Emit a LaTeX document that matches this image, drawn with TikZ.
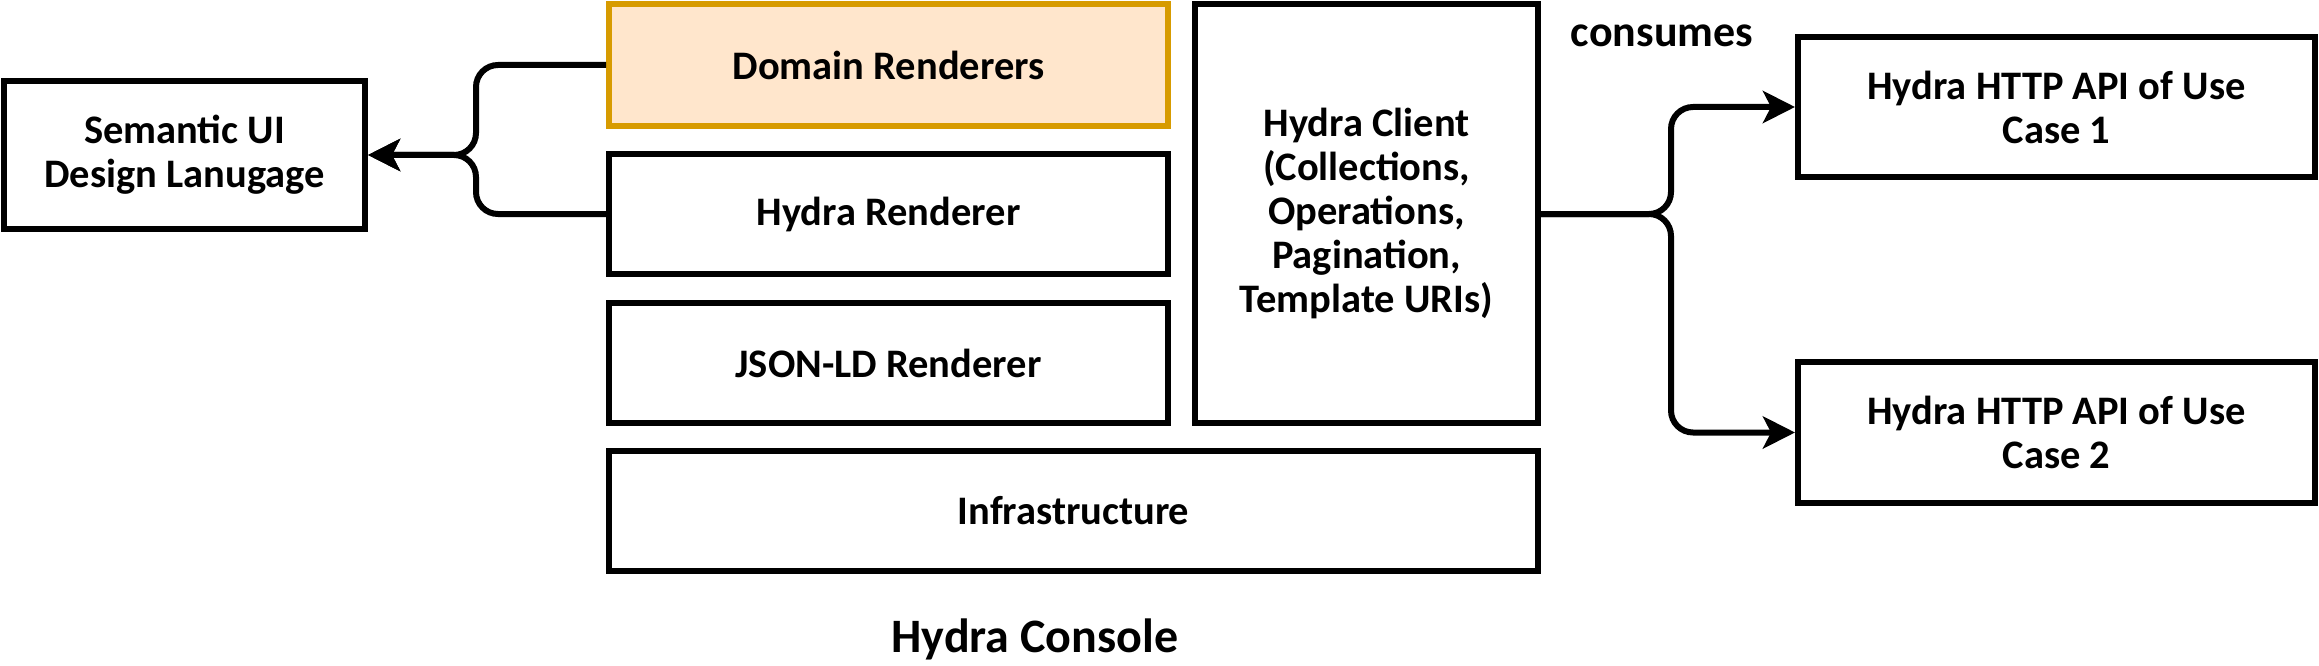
\documentclass[tikz,border=0pt]{standalone}
\usepackage{fontspec}
\setmainfont{Carlito}
\usetikzlibrary{arrows.meta}
\definecolor{domfill}{HTML}{FFE6CC}
\definecolor{domline}{HTML}{D79B00}
\begin{document}
\begin{tikzpicture}[x=1pt,y=-1pt,
  box/.style={draw=black, line width=6pt, fill=white, inner sep=0pt, align=center,
    font=\fontsize{40.5}{44}\selectfont\bfseries},
  conn/.style={draw=black, line width=6pt, rounded corners=22pt,
    -{Stealth[length=32pt,width=32pt,inset=8pt]}},
  lbl/.style={inner sep=0pt, font=\fontsize{44}{50}\selectfont\bfseries}]
\useasboundingbox (0,0) rectangle (2319,666);
% boxes
\node[box, minimum width=361pt, minimum height=148pt] (sem) at (184.5,155) {Semantic UI\\Design Lanugage};
\node[box, draw=domline, fill=domfill, minimum width=559pt, minimum height=122pt] (dom) at (888.5,65) {Domain Renderers};
\node[box, minimum width=559pt, minimum height=120pt] (hr) at (888.5,214) {Hydra Renderer};
\node[box, minimum width=559pt, minimum height=120pt] (jr) at (888.5,363) {JSON-LD Renderer};
\node[box, minimum width=343pt, minimum height=419pt] (hc) at (1366.5,213.5) {Hydra Client\\(Collections,\\Operations,\\Pagination,\\Template URIs)};
\node[box, minimum width=929pt, minimum height=120pt] (inf) at (1073.5,511) {Infrastructure};
\node[box, minimum width=517pt, minimum height=140pt] (api1) at (2056.5,107) {Hydra HTTP API of Use\\Case 1};
\node[box, minimum width=517pt, minimum height=141pt] (api2) at (2056.5,432.5) {Hydra HTTP API of Use\\Case 2};
% labels
\node[lbl] (cons) at (1662,36) {consumes};
\node[lbl, font=\fontsize{48}{54}\selectfont\bfseries] (console) at (1035,639) {Hydra Console};
% merge/split points
\coordinate (m1) at (476,152);
\coordinate (m2) at (1671,214);
% connectors
\draw[conn] (dom.west) -- (dom.west -| m1) |- (sem.east);
\draw[conn] (hr.west) -- (hr.west -| m1) |- (sem.east);
\draw[conn] (hc.east |- m2) -| (m2 |- api1.west) -- (api1.west);
\draw[conn] (hc.east |- m2) -| (m2 |- api2.west) -- (api2.west);
\end{tikzpicture}
\end{document}
